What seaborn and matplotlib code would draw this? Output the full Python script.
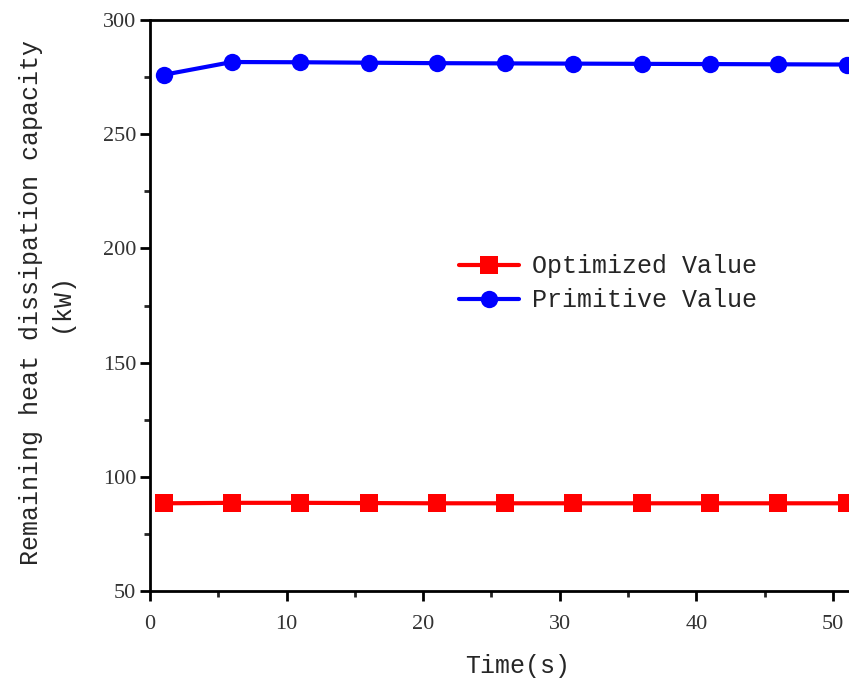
import matplotlib
matplotlib.use("Agg")
import matplotlib.pyplot as plt
import seaborn as sns
import pandas as pd
from matplotlib.ticker import MultipleLocator

time_s = [1, 6, 11, 16, 21, 26, 31, 36, 41, 46, 51]
optimized = [88.4, 88.6, 88.6, 88.5, 88.4, 88.4, 88.4, 88.4, 88.4, 88.4, 88.4]
primitive = [276.0, 281.6, 281.5, 281.3, 281.1, 281.0, 280.9, 280.8, 280.7, 280.6, 280.5]
series_names = ["Optimized Value", "Primitive Value"]

sns.set_style("ticks")
plt.rcParams['font.family'] = ['Liberation Serif', 'DejaVu Sans']

fig = plt.figure(figsize=(8.49, 6.84), dpi=100)
ax = fig.add_axes([150/849, 93/684, 737.6/849, 571/684])

df = pd.DataFrame({
    "Time": time_s * 2,
    "Value": optimized + primitive,
    "Series": [series_names[0]] * len(time_s) + [series_names[1]] * len(time_s),
})

sns.lineplot(data=df, x="Time", y="Value", hue="Series", style="Series",
             palette={series_names[0]: "#ff0000", series_names[1]: "#0000ff"},
             markers={series_names[0]: "s", series_names[1]: "o"},
             dashes=False, linewidth=3, markersize=12.5, markeredgewidth=0,
             ax=ax, clip_on=False)

ax.set_xlim(0, 54)
ax.set_ylim(50, 300)
ax.xaxis.set_major_locator(MultipleLocator(10))
ax.xaxis.set_minor_locator(MultipleLocator(5))
ax.yaxis.set_major_locator(MultipleLocator(50))
ax.yaxis.set_minor_locator(MultipleLocator(25))

for s in ax.spines.values():
    s.set_linewidth(2)
    s.set_color("black")
ax.tick_params(which="major", direction="out", length=7, width=2, labelsize=16, colors="black")
ax.tick_params(axis="x", which="major", pad=10)
ax.tick_params(axis="y", which="major", pad=3)
ax.tick_params(which="minor", direction="out", length=4, width=2)
for lbl in ax.get_xticklabels() + ax.get_yticklabels():
    lbl.set_color("#333333")

mono = ['Liberation Mono', 'DejaVu Sans Mono']
ax.set_xlabel("Time(s)", fontsize=18, family=mono)
ax.set_ylabel("Remaining heat dissipation capacity\n(kW)", fontsize=18, family=mono, linespacing=1.35)
ax.xaxis.set_label_coords(0.499, -0.11)
ax.yaxis.set_label_coords(-0.104, 0.506)

leg = ax.legend(loc="upper left", bbox_to_anchor=(0.405, 0.607), frameon=False,
                prop={'family': mono, 'size': 18}, handlelength=2.4,
                handletextpad=0.55, labelspacing=0.4, borderaxespad=0)

fig.savefig("out.png", dpi=100)
